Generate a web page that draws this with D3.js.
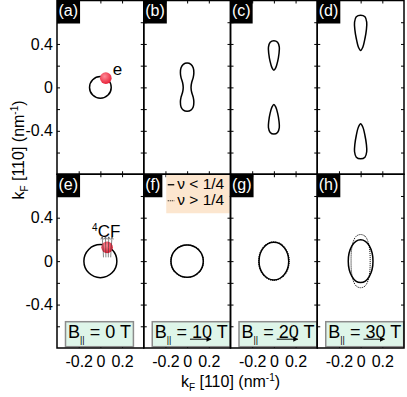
<!DOCTYPE html>
<html>
<head>
<meta charset="utf-8">
<script src="https://cdn.jsdelivr.net/npm/d3@7"></script>
<style>
body { margin: 0; background: #fff; }
text { font-family: "Liberation Sans", Arial, Helvetica, sans-serif; }
</style>
</head>
<body>
<div id="chart"></div>
<script>
const panelLabels = ["(a)", "(b)", "(c)", "(d)", "(e)", "(f)", "(g)", "(h)"];
const fieldValues = ["0", "10", "20", "30"];
const yTicks = [-0.6, -0.4, -0.2, 0, 0.2, 0.4, 0.6];
const yTickLabels = [-0.4, 0, 0.4];
const xTicks = [-0.2, 0, 0.2];
const legendLabels = ["\u03bd < 1/4", "\u03bd > 1/4"];

// fermi contours, points [kx, ky] in nm^-1
const contourB = [[0, 0.224], [0.035, 0.212], [0.056, 0.18], [0.062, 0.135], [0.056, 0.09], [0.042, 0.045], [0.036, 0],
  [0.042, -0.045], [0.056, -0.09], [0.062, -0.135], [0.056, -0.18], [0.035, -0.21], [0, -0.22], [-0.035, -0.21],
  [-0.056, -0.18], [-0.062, -0.135], [-0.056, -0.09], [-0.042, -0.045], [-0.036, 0], [-0.042, 0.045], [-0.056, 0.09],
  [-0.062, 0.135], [-0.056, 0.18], [-0.035, 0.212]];
const contourCUp = [[0, 0.43], [0.034, 0.415], [0.05, 0.37], [0.047, 0.31], [0.035, 0.24], [0.017, 0.18], [0, 0.157],
  [-0.017, 0.18], [-0.035, 0.24], [-0.047, 0.31], [-0.05, 0.37], [-0.034, 0.415]];
const contourCDown = [[0, -0.43], [0.034, -0.415], [0.05, -0.37], [0.047, -0.31], [0.035, -0.24], [0.017, -0.18], [0, -0.157],
  [-0.017, -0.18], [-0.035, -0.24], [-0.047, -0.31], [-0.05, -0.37], [-0.034, -0.415]];
const contourDUp = [[0, 0.665], [0.04, 0.65], [0.056, 0.6], [0.053, 0.53], [0.04, 0.45], [0.02, 0.37], [0, 0.34],
  [-0.02, 0.37], [-0.04, 0.45], [-0.053, 0.53], [-0.056, 0.6], [-0.04, 0.65]];
const contourDDown = [[0, -0.658], [0.04, -0.643], [0.056, -0.593], [0.053, -0.523], [0.04, -0.443], [0.02, -0.365], [0, -0.336],
  [-0.02, -0.365], [-0.04, -0.443], [-0.053, -0.523], [-0.056, -0.593], [-0.04, -0.643]];
const contourHDotted = [[0, 0.245], [0.04, 0.23], [0.068, 0.18], [0.084, 0.1], [0.088, 0], [0.084, -0.1], [0.068, -0.18],
  [0.04, -0.23], [0, -0.245], [-0.04, -0.23], [-0.068, -0.18], [-0.084, -0.1], [-0.088, 0], [-0.084, 0.1],
  [-0.068, 0.18], [-0.04, 0.23]];

// semi-axes [kx, ky] of the elliptic contours per panel
const solidEllipses = [[0.1, 0.1], null, null, null, [0.152, 0.152], [0.149, 0.149], [0.137, 0.173], [0.114, 0.197]];
const dottedEllipses = [null, null, null, null, null, [0.151, 0.151], [0.141, 0.177], null];

const electronA = [0.05, 0.085];
const compositeE = [0.062, 0.127];

const W = 407, H = 397;
const L = 57, R = 404, T = 0.5, B = 348;
const pw = (R - L) / 4, ph = (B - T) / 2;

const svg = d3.select("#chart").append("svg")
  .attr("width", W).attr("height", H);

const defs = svg.append("defs");
const grad = defs.append("radialGradient").attr("id", "ball")
  .attr("cx", "40%").attr("cy", "35%").attr("r", "65%");
grad.append("stop").attr("offset", "0%").attr("stop-color", "#ff8a96");
grad.append("stop").attr("offset", "100%").attr("stop-color", "#e8233a");
defs.append("marker").attr("id", "arr").attr("viewBox", "0 0 10 10")
  .attr("refX", 9).attr("refY", 5).attr("markerWidth", 6).attr("markerHeight", 5)
  .attr("markerUnits", "userSpaceOnUse").attr("orient", "auto")
  .append("path").attr("d", "M0,0L10,5L0,10z").attr("fill", "#000");

const contours = [[], [contourB], [contourCUp, contourCDown], [contourDUp, contourDDown], [], [], [], []];
const dottedContours = [[], [], [], [], [], [], [], [contourHDotted]];

panelLabels.forEach((lab, i) => {
  const col = i % 4, row = Math.floor(i / 4);
  const x = d3.scaleLinear().domain([-0.4, 0.4]).range([L + col * pw, L + (col + 1) * pw]);
  const y = d3.scaleLinear().domain([-0.8, 0.8]).range([T + (row + 1) * ph, T + row * ph]);
  const g = svg.append("g");

  // inward ticks on all four sides
  const sides = [
    [d3.axisLeft(y).tickValues(yTicks), `translate(${x(-0.4)},0)`],
    [d3.axisRight(y).tickValues(yTicks), `translate(${x(0.4)},0)`],
    [d3.axisTop(x).tickValues(xTicks), `translate(0,${y(0.8)})`],
    [d3.axisBottom(x).tickValues(xTicks), `translate(0,${y(-0.8)})`]
  ];
  sides.forEach(([ax, tr]) => {
    const a = g.append("g").attr("transform", tr)
      .call(ax.tickSize(-3).tickSizeOuter(0).tickFormat(""));
    a.select(".domain").remove();
    a.selectAll("line").attr("stroke", "#000").attr("stroke-width", 1);
  });

  // legend in (f)
  if (i === 5) {
    const lx = x(-0.4) + 22.5;
    g.append("rect").attr("x", lx).attr("y", y(0.8)).attr("width", x(0.4) - lx - 0.8).attr("height", 39)
      .attr("fill", "#fce6cf");
    legendLabels.forEach((t, k) => {
      const by = y(0.8) + 15 + k * 16;
      g.append("line").attr("x1", lx + 1.5).attr("x2", lx + 8).attr("y1", by - 4.5).attr("y2", by - 4.5)
        .attr("stroke", "#000").attr("stroke-width", k ? 1 : 1.3).attr("stroke-dasharray", k ? "1,1" : null);
      g.append("text").attr("x", lx + 11).attr("y", by).attr("font-size", 15.5).text(t);
    });
  }

  const line = d3.line().x(d => x(d[0])).y(d => y(d[1])).curve(d3.curveCatmullRomClosed.alpha(0.5));
  contours[i].forEach(c => g.append("path").attr("d", line(c)).attr("fill", "none")
    .attr("stroke", "#000").attr("stroke-width", 1.5));
  dottedContours[i].forEach(c => g.append("path").attr("d", line(c)).attr("fill", "none")
    .attr("stroke", "#000").attr("stroke-width", 1).attr("stroke-dasharray", "1,1"));

  if (solidEllipses[i]) {
    const [rx, ry] = solidEllipses[i];
    g.append("ellipse").attr("cx", x(0)).attr("cy", y(0))
      .attr("rx", x(rx) - x(0)).attr("ry", y(0) - y(ry))
      .attr("fill", "none").attr("stroke", "#000").attr("stroke-width", 1.5);
  }
  if (dottedEllipses[i]) {
    const [rx, ry] = dottedEllipses[i];
    g.append("ellipse").attr("cx", x(0)).attr("cy", y(0))
      .attr("rx", x(rx) - x(0)).attr("ry", y(0) - y(ry))
      .attr("fill", "none").attr("stroke", "#000").attr("stroke-width", 1.1).attr("stroke-dasharray", "1,1");
  }

  if (i === 0) {
    g.append("circle").attr("cx", x(electronA[0])).attr("cy", y(electronA[1])).attr("r", 5.8).attr("fill", "url(#ball)");
    g.append("text").attr("x", x(electronA[0]) + 7).attr("y", y(electronA[1]) - 3).attr("font-size", 17).text("e");
  }
  if (i === 4) {
    const cx = x(compositeE[0]), cy = y(compositeE[1]);
    g.append("circle").attr("cx", cx).attr("cy", cy).attr("r", 5.8).attr("fill", "url(#ball)");
    // attached flux lines
    [-4.5, -1.5, 1.5, 4.5].forEach(o => {
      g.append("path").attr("d", `M${cx + o * 0.8},${cy + 10}L${cx + o * 0.9},${cy}L${cx + o * 1.1},${cy - 10}`)
        .attr("fill", "none").attr("stroke", "#333").attr("stroke-width", 0.6);
      g.append("path").attr("d", `M${cx + o * 1.1 - 1.3},${cy - 8}L${cx + o * 1.1},${cy - 10.5}L${cx + o * 1.1 + 1.3},${cy - 8}`)
        .attr("fill", "none").attr("stroke", "#333").attr("stroke-width", 0.6);
    });
    const t = g.append("text").attr("x", cx - 15).attr("y", cy - 10).attr("font-size", 17);
    t.append("tspan").attr("font-size", 10).attr("dy", -6).text("4");
    t.append("tspan").attr("dy", 6).text("CF");
  }

  // field boxes in bottom row
  if (row === 1) {
    const bx = x(-0.4) + 8.5, by = y(-0.8) - 26.3;
    const box = g.append("rect").attr("x", bx).attr("y", by).attr("height", 25)
      .attr("fill", "#def5e9").attr("stroke", "#8c8c8c").attr("stroke-width", 1.5);
    const t = g.append("text").attr("x", bx + 2.5).attr("y", by + 15.8).attr("font-size", 18);
    t.append("tspan").text("B");
    t.append("tspan").attr("font-size", 9).attr("dy", 5).text("||");
    t.append("tspan").attr("dy", -5).text(" = ");
    const num = t.append("tspan").text(fieldValues[col]);
    t.append("tspan").text(" T");
    box.attr("width", t.node().getComputedTextLength() + 5);
    if (col > 0) {
      const nb = num.node().getBBox();
      g.append("line").attr("x1", nb.x - 2).attr("x2", nb.x + nb.width - 1)
        .attr("y1", by + 17.5).attr("y2", by + 17.5)
        .attr("stroke", "#000").attr("stroke-width", 1).attr("marker-end", "url(#arr)");
    }
  }

  // frame
  g.append("rect").attr("x", x(-0.4)).attr("y", y(0.8)).attr("width", pw).attr("height", ph)
    .attr("fill", "none").attr("stroke", "#000").attr("stroke-width", 1.5);

  // panel label
  const lbox = g.append("rect").attr("x", x(-0.4)).attr("y", y(0.8)).attr("height", 23).attr("fill", "#000");
  const lt = g.append("text").attr("x", x(-0.4) + 1.5).attr("y", y(0.8) + 15.5)
    .attr("font-size", 16).attr("fill", "#fff").text(lab);
  lbox.attr("width", lt.node().getComputedTextLength() + 3.5);

  // tick labels
  if (col === 0) {
    const a = g.append("g").attr("transform", `translate(${x(-0.4)},0)`)
      .call(d3.axisLeft(y).tickValues(yTickLabels).tickSize(0).tickPadding(4).tickFormat(d => String(d)));
    a.select(".domain").remove();
    a.selectAll("text").attr("font-size", 16).attr("font-family", null);
  }
  if (row === 1) {
    const a = g.append("g").attr("transform", `translate(0,${y(-0.8)})`)
      .call(d3.axisBottom(x).tickValues(xTicks).tickSize(0).tickPadding(8).tickFormat(d => String(d)));
    a.select(".domain").remove();
    a.selectAll("text").attr("font-size", 16).attr("font-family", null);
  }
});

function axisTitle(sel) {
  sel.attr("font-size", 16).attr("text-anchor", "middle");
  sel.append("tspan").text("k");
  sel.append("tspan").attr("font-size", 10).attr("dy", 4).text("F");
  sel.append("tspan").attr("dy", -4).text(" [110] (nm");
  sel.append("tspan").attr("font-size", 10).attr("dy", -6).text("-1");
  sel.append("tspan").attr("dy", 6).text(")");
}
svg.append("text").attr("x", (L + R) / 2).attr("y", 387).call(axisTitle);
svg.append("text").attr("transform", "translate(24,150) rotate(-90)").call(axisTitle);
</script>
</body>
</html>
